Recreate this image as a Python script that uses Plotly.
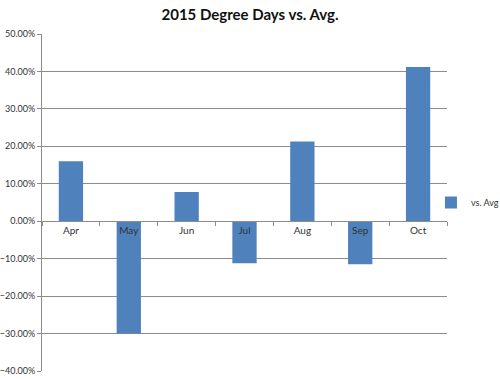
import plotly.graph_objects as go

months = ["Apr", "May", "Jun", "Jul", "Aug", "Sep", "Oct"]
vs_avg = [0.160, -0.300, 0.078, -0.112, 0.213, -0.115, 0.412]
series_name = "vs. Avg"
title_text = "2015 Degree Days vs. Avg."

fig = go.Figure()
fig.add_trace(go.Bar(x=months, y=vs_avg, name=series_name, marker_color="#4F81BD",
                     marker_line_width=0, showlegend=True))

fig.update_layout(
    width=500, height=379,
    margin=dict(l=42, r=53, t=34, b=8, autoexpand=False),
    paper_bgcolor="white", plot_bgcolor="white",
    font=dict(family="Lato, Calibri, sans-serif", size=10, color="#333333"),
    title=dict(text="<b>" + title_text + "</b>", x=0.5, xanchor="center", xref="container",
               y=0.96, yanchor="middle", yref="container", automargin=False,
               font=dict(size=15, color="#111111")),
    bargap=0.58,
    showlegend=True,
    legend=dict(x=0.99, y=0.5, xanchor="left", yanchor="middle", font=dict(size=9),
                itemwidth=30, indentation=-12, bgcolor="rgba(0,0,0,0)"),
    yaxis=dict(range=[-0.4, 0.5], dtick=0.1, tickformat=".2%", showgrid=True,
               gridcolor="#8C8C8C", gridwidth=1, zeroline=False, showline=True,
               linecolor="#8C8C8C", ticks="outside", ticklen=4, tickcolor="#8C8C8C",
               tickfont=dict(size=9), automargin=False),
    xaxis=dict(anchor="free", position=0.4/0.9, showline=True, linecolor="#8C8C8C",
               ticks="outside", tickson="boundaries", ticklen=4, tickcolor="#8C8C8C",
               showgrid=False, zeroline=False, tickfont=dict(size=10), automargin=False),
)

fig.write_html("out.html", config={"displayModeBar": False},
               post_script="document.body.style.margin='0';")
